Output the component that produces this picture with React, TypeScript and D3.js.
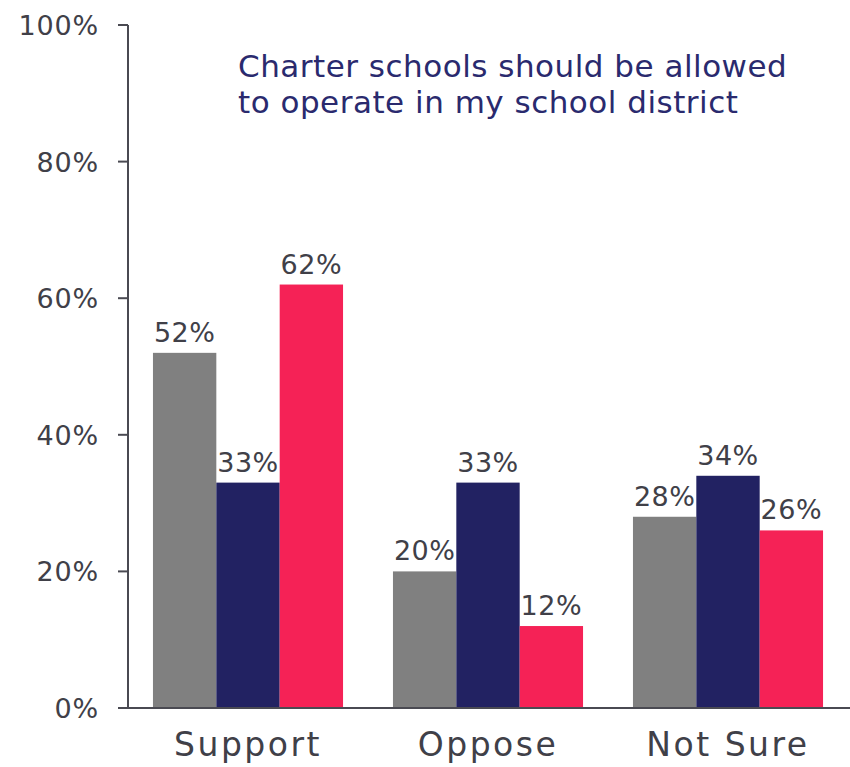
import React from "react";
import * as d3 from "d3";

const categories = ["Support", "Oppose", "Not Sure"];
const seriesNames = ["All", "Group B", "Group C"];
const seriesA = [52, 20, 28];
const seriesB = [33, 33, 34];
const seriesC = [62, 12, 26];
const yTicks = [0, 20, 40, 60, 80, 100];
const titleLines = ["Charter schools should be allowed", "to operate in my school district"];
const colors = ["#808080", "#222262", "#f52256"];

export default function App() {
  const W = 850, H = 767;
  const x0 = 128, x1 = 848, yTop = 25, yBot = 708;
  const x = d3.scaleBand().domain(categories).range([x0, x1]).paddingInner(0.208).paddingOuter(0.104);
  const xs = d3.scaleBand().domain(seriesNames).range([0, x.bandwidth()]);
  const y = d3.scaleLinear().domain([0, 100]).range([yBot, yTop]);
  const series = [seriesA, seriesB, seriesC];
  const font = "'DejaVu Sans', sans-serif";
  const lab = "#404048";
  return (
    <svg width={W} height={H} style={{ position: "absolute", left: 0, top: 0, background: "#fff" }}>
      <rect width={W} height={H} fill="#fff" />
      {categories.map((c, ci) =>
        series.map((s, si) => (
          <rect key={c + si} x={(x(c) as number) + (xs(seriesNames[si]) as number)} y={y(s[ci])}
            width={xs.bandwidth()} height={yBot - y(s[ci])} fill={colors[si]} />
        ))
      )}
      {categories.map((c, ci) =>
        series.map((s, si) => (
          <text key={"l" + c + si} x={(x(c) as number) + (xs(seriesNames[si]) as number) + xs.bandwidth() / 2}
            y={y(s[ci]) - 11} textAnchor="middle" fontFamily={font} fontSize={27} fill={lab}
            letterSpacing={0.5}>{s[ci]}%</text>
        ))
      )}
      <line x1={x0} x2={x0} y1={yTop} y2={yBot} stroke="#4a4a52" strokeWidth={2} />
      <line x1={118} x2={W} y1={yBot} y2={yBot} stroke="#4a4a52" strokeWidth={2} />
      {yTicks.map(t => (
        <g key={t}>
          <line x1={118} x2={x0} y1={y(t)} y2={y(t)} stroke="#4a4a52" strokeWidth={2} />
          <text x={99} y={y(t) + 10} textAnchor="end" fontFamily={font} fontSize={27} fill={lab} letterSpacing={0.8}>{t}%</text>
        </g>
      ))}
      {categories.map(c => (
        <text key={"c" + c} x={(x(c) as number) + x.bandwidth() / 2} y={756} textAnchor="middle"
          fontFamily={font} fontSize={33} fill={lab} letterSpacing={2.5}>{c}</text>
      ))}
      {titleLines.map((t, i) => (
        <text key={"t" + i} x={238} y={77 + i * 36} fontFamily={font} fontSize={31} fill="#2a2a6e" letterSpacing={0.5}>{t}</text>
      ))}
    </svg>
  );
}
